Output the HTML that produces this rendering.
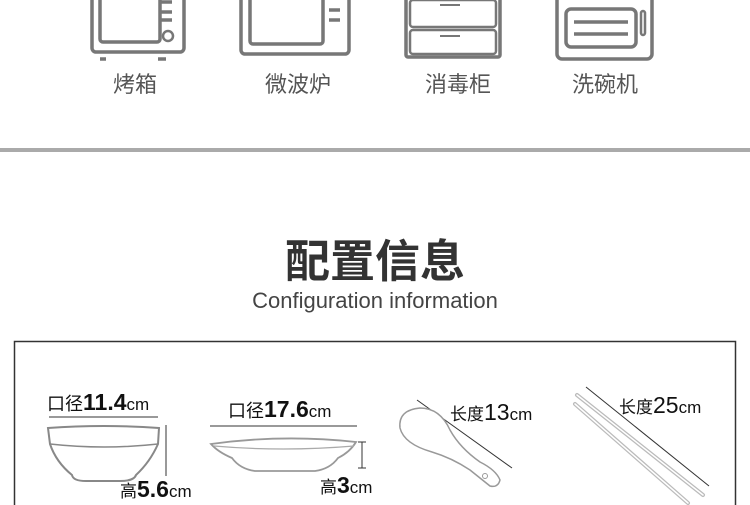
<!DOCTYPE html>
<html><head><meta charset="utf-8"><style>
html,body{margin:0;padding:0;background:#fff;width:750px;height:505px;overflow:hidden}
svg{display:block}
</style></head><body>
<svg width="750" height="505" viewBox="0 0 750 505" xmlns="http://www.w3.org/2000/svg" font-family="Liberation Sans, Noto Sans CJK SC, sans-serif">
<g fill="none" stroke="#777" stroke-width="3.5">
<rect x="92" y="-6" width="92" height="58" rx="4"/>
<rect x="100" y="-4" width="60" height="46" rx="3"/>
<line x1="160" y1="2" x2="172" y2="2"/><line x1="160" y1="12" x2="172" y2="12"/><line x1="160" y1="20" x2="172" y2="20"/>
<circle cx="168" cy="36" r="5" stroke-width="2.5"/>
<line x1="100" y1="59" x2="106" y2="59"/><line x1="158" y1="59" x2="166" y2="59"/>
<rect x="241" y="-6" width="108" height="60" rx="4"/>
<rect x="250" y="-4" width="73" height="48" rx="3"/>
<line x1="329" y1="10" x2="340" y2="10"/><line x1="329" y1="20" x2="340" y2="20"/>
<rect x="406" y="-6" width="94" height="63" rx="2"/>
<rect x="410" y="0" width="86" height="27" rx="3" stroke-width="2.5"/>
<rect x="410" y="30" width="86" height="24" rx="3" stroke-width="2.5"/>
<line x1="440" y1="5" x2="460" y2="5" stroke-width="2"/><line x1="440" y1="36" x2="460" y2="36" stroke-width="2"/>
<rect x="557" y="-6" width="95" height="65" rx="5"/>
<rect x="566" y="9" width="70" height="38" rx="5"/>
<line x1="574" y1="22" x2="628" y2="22"/><line x1="574" y1="34" x2="628" y2="34"/>
<rect x="641" y="11" width="4" height="24" rx="2" stroke-width="2.5"/>
</g>
<g font-size="22" fill="#555" text-anchor="middle">
<text x="135" y="92">烤箱</text>
<text x="298" y="92">微波炉</text>
<text x="458" y="92">消毒柜</text>
<text x="605" y="92">洗碗机</text>
</g>
<rect x="0" y="148" width="750" height="4" fill="#aaa"/>
<text x="375" y="277" font-size="45" font-weight="bold" fill="#333" text-anchor="middle">配置信息</text>
<text x="375" y="308" font-size="22" fill="#444" text-anchor="middle">Configuration information</text>
<rect x="14.5" y="341.5" width="721" height="170" fill="none" stroke="#333" stroke-width="1.5"/>
<text x="47" y="410" font-size="18" fill="#111">口径<tspan font-size="23" font-weight="bold">11.4</tspan><tspan font-size="17">cm</tspan></text>
<g stroke="#333" stroke-width="1"><line x1="49" y1="417" x2="158" y2="417"/><line x1="166" y1="425" x2="166" y2="476"/>
<line x1="362" y1="442" x2="362" y2="468"/><line x1="358" y1="442" x2="366" y2="442"/><line x1="358" y1="468" x2="366" y2="468"/>
<line x1="210" y1="426" x2="357" y2="426"/><line x1="417" y1="400" x2="512" y2="468"/><line x1="586" y1="387" x2="709" y2="486"/></g>
<path d="M48 428 Q104 424 159 428 L158 444 Q150 462 136 475 Q134 481 120 481 L86 481 Q73 481 72 475 Q56 462 50 444 Z" fill="#fff" stroke="#888" stroke-width="2"/>
<path d="M50 444 Q104 450 158 444" fill="none" stroke="#888" stroke-width="1.5"/>
<text x="120" y="497" font-size="17" fill="#111">高<tspan font-size="23" font-weight="bold">5.6</tspan>cm</text>
<text x="228" y="417" font-size="18" fill="#111">口径<tspan font-size="23" font-weight="bold">17.6</tspan><tspan font-size="17">cm</tspan></text>
<path d="M211 444 Q283 434 356 442 Q350 452 338 458 Q330 469 315 471 L255 471 Q240 469 232 458 Q218 452 211 444 Z" fill="#fff" stroke="#999" stroke-width="1.8"/>
<path d="M214 446 Q283 452 354 446" fill="none" stroke="#aaa" stroke-width="1.2"/>
<text x="320" y="493" font-size="17" fill="#111">高<tspan font-size="23" font-weight="bold">3</tspan>cm</text>
<path d="M420 408 Q398 410 400 428 Q404 444 432 452 Q452 458 470 470 L490 486 Q498 488 500 480 Q496 470 480 462 Q460 448 450 430 Q440 408 420 408 Z" fill="#fff" stroke="#999" stroke-width="1.5"/>
<circle cx="485" cy="476" r="2.5" fill="none" stroke="#999"/>
<text x="450" y="420" font-size="17" fill="#111">长度<tspan font-size="23">13</tspan>cm</text>
<g stroke="#bbb" stroke-width="4" stroke-linecap="round" fill="none">
<line x1="577" y1="395" x2="703" y2="495"/>
<line x1="575" y1="404" x2="688" y2="503"/>
</g>
<g stroke="#fff" stroke-width="1.5" stroke-linecap="round" fill="none">
<line x1="577" y1="395" x2="703" y2="495"/>
<line x1="575" y1="404" x2="688" y2="503"/>
</g>
<text x="619" y="413" font-size="17" fill="#111">长度<tspan font-size="23">25</tspan>cm</text>
</svg>
</body></html>
